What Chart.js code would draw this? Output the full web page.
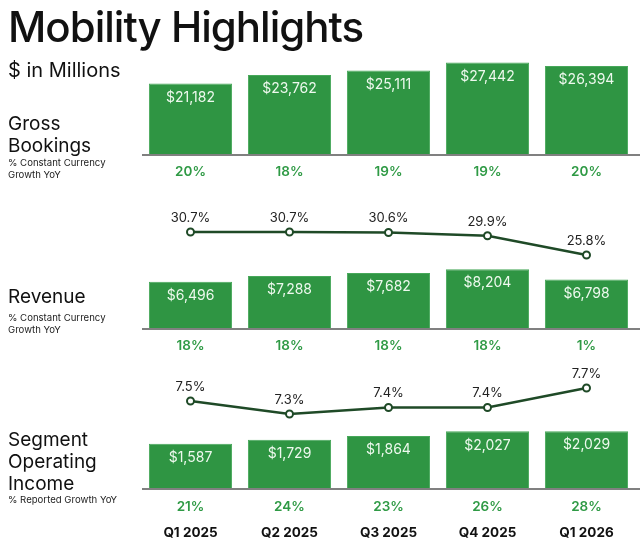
<!DOCTYPE html>
<html lang="en">
<head>
    <meta charset="UTF-8">
    <title>Mobility Highlights</title>
    <script src="https://cdn.jsdelivr.net/npm/chart.js@4.4.2/dist/chart.umd.min.js"></script>
    <style>
        body { margin: 0; background: #fff; font-family: Inter, sans-serif; color: #111; }
        #wrap { position: relative; width: 640px; height: 549px; overflow: hidden; }
        #wrap canvas { position: absolute; left: 0; top: 0; }
        .lbl { position: absolute; left: 8px; white-space: nowrap; }
        .title { top: 1px; font-size: 42px; font-weight: 500; letter-spacing: -1px; }
        .unit { top: 58px; font-size: 20px; }
        .big { font-size: 19px; line-height: 22px; }
        .small { font-size: 9.6px; line-height: 12px; color: #222; }
    </style>
</head>
<body>
<div id="wrap">
    <canvas id="mob" width="640" height="549"></canvas>
    <div class="lbl title">Mobility Highlights</div>
    <div class="lbl unit">$ in Millions</div>
    <div class="lbl big" style="top:113px">Gross<br>Bookings</div>
    <div class="lbl small" style="top:157px">% Constant Currency<br>Growth YoY</div>
    <div class="lbl big" style="top:286px">Revenue</div>
    <div class="lbl small" style="top:312px">% Constant Currency<br>Growth YoY</div>
    <div class="lbl big" style="top:429px">Segment<br>Operating<br>Income</div>
    <div class="lbl small" style="top:494px">% Reported Growth YoY</div>
</div>

<script>
    const quarters = ['Q1 2025', 'Q2 2025', 'Q3 2025', 'Q4 2025', 'Q1 2026'];

    const grossBookings = [21182, 23762, 25111, 27442, 26394];
    const gbGrowth = [20, 18, 19, 19, 20];

    const revMargin = [30.7, 30.7, 30.6, 29.9, 25.8];   // revenue as % of GB
    const revenue = [6496, 7288, 7682, 8204, 6798];
    const revGrowth = [18, 18, 18, 18, 1];

    const soiMargin = [7.5, 7.3, 7.4, 7.4, 7.7];       // SOI as % of GB
    const soi = [1587, 1729, 1864, 2027, 2029];
    const soiGrowth = [21, 24, 23, 26, 28];

    const H = 549;
    const GREEN = '#2f9543';
    const DARK = '#1f4a27';

    // each row gets its own hidden y axis spanning the whole canvas:
    // value v0 sits at pixel p0, k pixels per unit
    function band(p0, k, v0) {
        return { display: false, min: v0 - (H - p0) / k, max: v0 + p0 / k };
    }

    const money = v => '$' + v.toLocaleString('en-US');

    const rowLabels = {
        id: 'rowLabels',
        afterDatasetsDraw(chart) {
            const c = chart.ctx;
            const x = chart.scales.x;
            c.save();

            // base rules under the bar rows
            c.strokeStyle = '#808080';
            c.lineWidth = 2;
            ['yGB', 'yRev', 'ySoi'].forEach(id => {
                const y = Math.round(chart.scales[id].getPixelForValue(0));
                c.beginPath();
                c.moveTo(x.left + 1, y);
                c.lineTo(chart.width, y);
                c.stroke();
            });

            c.textAlign = 'center';
            c.textBaseline = 'middle';

            // values inside bars
            c.fillStyle = '#eef9ee';
            c.font = '14px Inter, sans-serif';
            [[grossBookings, 'yGB'], [revenue, 'yRev'], [soi, 'ySoi']].forEach(([arr, id]) => {
                arr.forEach((v, i) => {
                    c.fillText(money(v), x.getPixelForValue(i), chart.scales[id].getPixelForValue(v) + 14);
                });
            });

            // growth rows
            c.fillStyle = '#2f9a45';
            c.font = '600 13.5px Inter, sans-serif';
            [[gbGrowth, 'yGB', 17], [revGrowth, 'yRev', 17], [soiGrowth, 'ySoi', 18]].forEach(([arr, id, gap]) => {
                const y = chart.scales[id].getPixelForValue(0) + gap;
                arr.forEach((v, i) => c.fillText(v + '%', x.getPixelForValue(i), y));
            });

            // margin labels above points
            c.fillStyle = '#222';
            c.font = '13px Inter, sans-serif';
            [[revMargin, 'yRM'], [soiMargin, 'ySM']].forEach(([arr, id]) => {
                arr.forEach((v, i) => {
                    c.fillText(v.toFixed(1) + '%', x.getPixelForValue(i), chart.scales[id].getPixelForValue(v) - 14);
                });
            });

            // quarter labels
            c.fillStyle = '#111';
            c.font = '700 13.5px Inter, sans-serif';
            quarters.forEach((q, i) => c.fillText(q, x.getPixelForValue(i), 533));

            c.restore();
        }
    };

    const barSet = (data, axis) => ({
        type: 'bar',
        data: data,
        yAxisID: axis,
        backgroundColor: GREEN,
        borderColor: '#47a85a',
        borderWidth: 1,
        grouped: false,
        barPercentage: 0.84,
        categoryPercentage: 1,
        order: 2
    });

    const lineSet = (data, axis) => ({
        type: 'line',
        data: data,
        yAxisID: axis,
        borderColor: DARK,
        borderWidth: 2.5,
        pointRadius: 3.5,
        pointBorderWidth: 2,
        pointBackgroundColor: '#fff',
        pointBorderColor: DARK,
        order: 1
    });

    new Chart(document.getElementById('mob'), {
        type: 'bar',
        data: {
            labels: quarters,
            datasets: [
                barSet(grossBookings, 'yGB'),
                barSet(revenue, 'yRev'),
                barSet(soi, 'ySoi'),
                lineSet(revMargin, 'yRM'),
                lineSet(soiMargin, 'ySM')
            ]
        },
        options: {
            responsive: false,
            animation: false,
            layout: { autoPadding: false, padding: { left: 141, right: 4, top: 0, bottom: 0 } },
            plugins: { legend: { display: false }, tooltip: { enabled: false } },
            scales: {
                x: { display: false },
                yGB: band(155, 0.00337, 0),
                yRev: band(329, 0.00728, 0),
                ySoi: band(489, 0.02845, 0),
                yRM: band(232, 4.7, 30.7),
                ySM: band(401, 65, 7.5)
            }
        },
        plugins: [rowLabels]
    });
</script>
</body>
</html>
